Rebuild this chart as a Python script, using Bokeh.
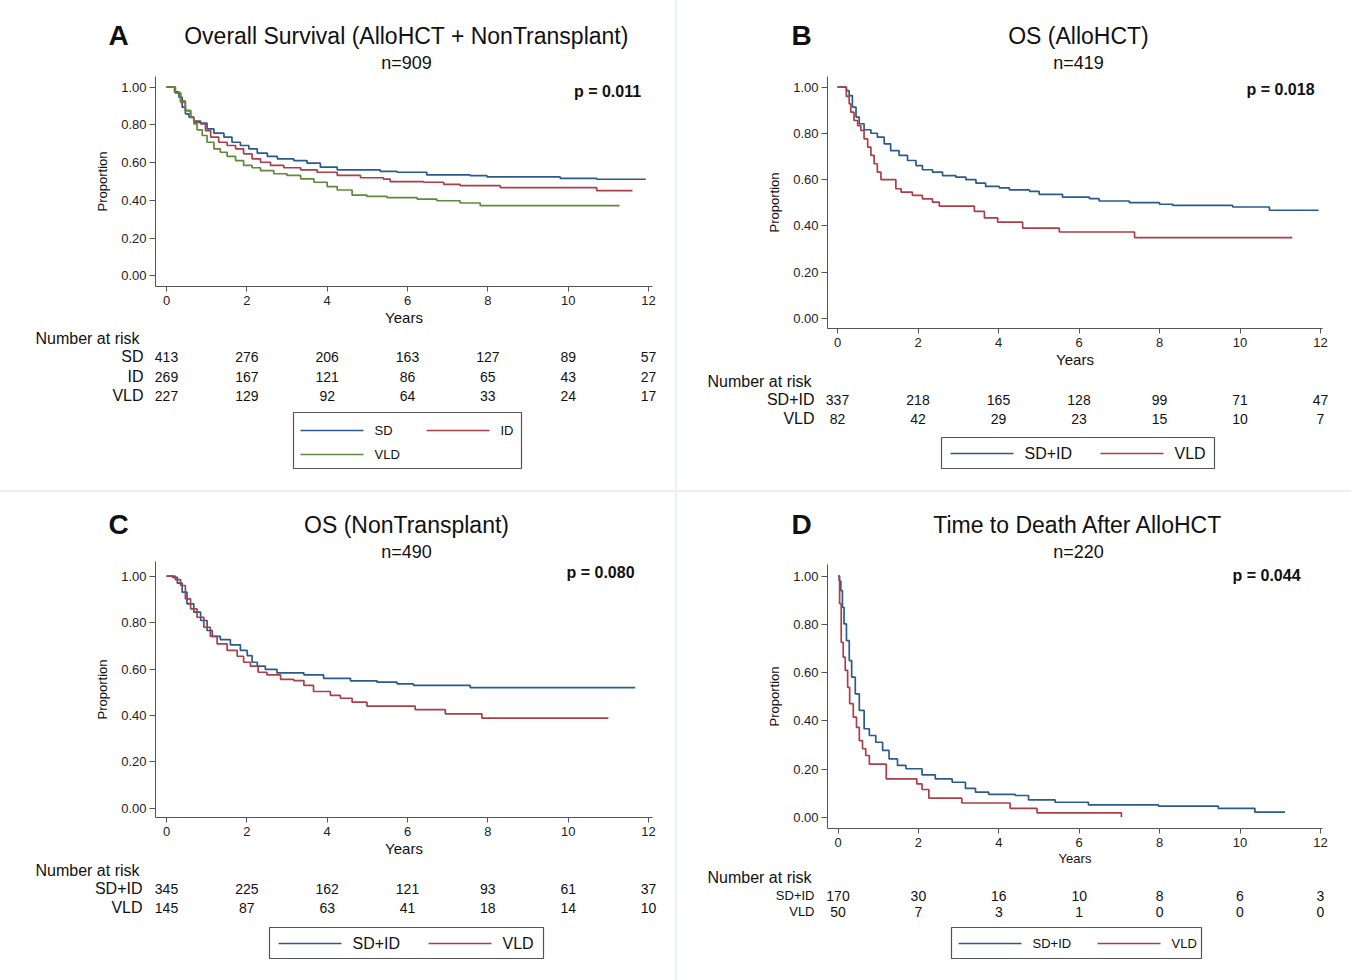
import math
from bokeh.plotting import figure
from bokeh.models import (Range1d, FixedTicker, PrintfTickFormatter, Label, LabelSet,
                          ColumnDataSource)
from bokeh.core.properties import value
from bokeh.layouts import row, column
from bokeh.embed import file_html
from bokeh.resources import INLINE

FONT = "Liberation Sans"
BLUE = "#2a5b8c"
RED = "#aa3f49"
GREEN = "#62893b"
AXIS = "#555555"

# ---------------- data ----------------
risk_times = [0, 2, 4, 6, 8, 10, 12]
x_ticks = [0, 2, 4, 6, 8, 10, 12]
y_ticks = [0.0, 0.2, 0.4, 0.6, 0.8, 1.0]

# Panel A: Overall survival (AlloHCT + NonTransplant)
a_sd_t = [0, 0.2, 0.31, 0.39, 0.47, 0.56, 0.68, 0.85, 1.01, 1.18, 1.43, 1.63, 1.84, 2.05, 2.26, 2.51, 2.76, 3.17, 3.5, 3.83, 4.25, 5.32, 5.74, 6.48, 7.56, 7.98, 9.80, 10.71, 11.93]
a_sd_s = [1.0, 0.975, 0.947, 0.894, 0.859, 0.841, 0.82, 0.809, 0.779, 0.756, 0.735, 0.708, 0.691, 0.673, 0.65, 0.633, 0.62, 0.611, 0.597, 0.576, 0.562, 0.554, 0.549, 0.535, 0.531, 0.524, 0.517, 0.512, 0.512]
a_id_t = [0, 0.22, 0.35, 0.47, 0.6, 0.68, 0.85, 0.97, 1.1, 1.3, 1.51, 1.72, 1.92, 2.13, 2.34, 2.59, 2.92, 3.34, 3.75, 4.25, 4.83, 5.4, 5.57, 6.4, 6.9, 7.31, 8.31, 10.71, 11.6]
a_id_s = [1.0, 0.97, 0.926, 0.876, 0.841, 0.814, 0.806, 0.77, 0.735, 0.708, 0.691, 0.673, 0.647, 0.62, 0.602, 0.585, 0.573, 0.562, 0.549, 0.532, 0.52, 0.513, 0.499, 0.496, 0.485, 0.478, 0.468, 0.452, 0.452]
a_vld_t = [0, 0.22, 0.35, 0.47, 0.6, 0.68, 0.76, 0.89, 1.01, 1.18, 1.34, 1.51, 1.72, 1.92, 2.13, 2.34, 2.67, 3.0, 3.34, 3.67, 4.0, 4.25, 4.62, 4.99, 5.49, 6.24, 6.73, 7.31, 7.81, 11.28]
a_vld_s = [1.0, 0.97, 0.92, 0.876, 0.838, 0.806, 0.774, 0.744, 0.708, 0.673, 0.655, 0.633, 0.611, 0.585, 0.573, 0.558, 0.541, 0.532, 0.514, 0.496, 0.473, 0.455, 0.428, 0.421, 0.414, 0.407, 0.398, 0.386, 0.372, 0.372]
a_risk_sd = [413, 276, 206, 163, 127, 89, 57]
a_risk_id = [269, 167, 121, 86, 65, 43, 27]
a_risk_vld = [227, 129, 92, 64, 33, 24, 17]

# Panel B: OS (AlloHCT)
b_sdid_t = [0, 0.22, 0.29, 0.37, 0.46, 0.54, 0.66, 0.83, 0.99, 1.16, 1.32, 1.53, 1.74, 1.95, 2.11, 2.36, 2.61, 2.94, 3.19, 3.44, 3.68, 4.02, 4.27, 4.77, 5.01, 5.59, 6.26, 6.5, 7.25, 8.0, 8.33, 9.82, 10.73, 11.95]
b_sdid_s = [1.0, 0.985, 0.964, 0.914, 0.871, 0.842, 0.816, 0.801, 0.784, 0.755, 0.726, 0.705, 0.683, 0.661, 0.643, 0.633, 0.618, 0.611, 0.60, 0.585, 0.571, 0.565, 0.556, 0.55, 0.537, 0.525, 0.518, 0.508, 0.501, 0.494, 0.489, 0.482, 0.468, 0.468]
b_vld_t = [0, 0.22, 0.29, 0.33, 0.41, 0.5, 0.58, 0.66, 0.75, 0.83, 0.91, 0.99, 1.08, 1.45, 1.58, 1.86, 2.11, 2.36, 2.53, 3.4, 3.65, 3.98, 4.6, 5.51, 7.38, 11.3]
b_vld_s = [1.0, 0.96, 0.928, 0.892, 0.856, 0.834, 0.813, 0.777, 0.741, 0.705, 0.669, 0.633, 0.60, 0.561, 0.546, 0.532, 0.517, 0.503, 0.486, 0.463, 0.435, 0.417, 0.391, 0.374, 0.35, 0.35]
b_risk_sdid = [337, 218, 165, 128, 99, 71, 47]
b_risk_vld = [82, 42, 29, 23, 15, 10, 7]

# Panel C: OS (NonTransplant)
c_sdid_t = [0, 0.15, 0.27, 0.39, 0.51, 0.68, 0.85, 1.01, 1.14, 1.34, 1.59, 1.84, 2.01, 2.13, 2.26, 2.46, 2.75, 3.42, 3.91, 4.58, 5.24, 5.74, 6.15, 7.56, 11.67]
c_sdid_s = [1.0, 0.995, 0.97, 0.931, 0.881, 0.845, 0.809, 0.766, 0.741, 0.727, 0.704, 0.68, 0.658, 0.629, 0.612, 0.598, 0.583, 0.575, 0.56, 0.549, 0.543, 0.536, 0.529, 0.52, 0.52]
c_vld_t = [0, 0.22, 0.35, 0.47, 0.6, 0.76, 0.93, 1.09, 1.26, 1.51, 1.76, 1.92, 2.09, 2.28, 2.5, 2.84, 3.17, 3.42, 3.66, 4.08, 4.33, 4.62, 4.99, 6.19, 6.94, 7.85, 11.0]
c_vld_s = [1.0, 0.985, 0.96, 0.902, 0.859, 0.823, 0.78, 0.741, 0.708, 0.68, 0.655, 0.629, 0.612, 0.586, 0.575, 0.555, 0.55, 0.529, 0.503, 0.486, 0.474, 0.457, 0.44, 0.425, 0.407, 0.388, 0.388]
c_risk_sdid = [345, 225, 162, 121, 93, 61, 37]
c_risk_vld = [145, 87, 63, 41, 18, 14, 10]

# Panel D: Time to death after AlloHCT
d_sdid_t = [0, 0.03, 0.07, 0.11, 0.15, 0.21, 0.28, 0.34, 0.43, 0.53, 0.65, 0.78, 0.94, 1.11, 1.27, 1.48, 1.69, 2.09, 2.42, 2.84, 3.17, 3.42, 3.75, 4.41, 4.74, 5.4, 6.23, 7.97, 9.46, 10.37, 11.12]
d_sdid_s = [1.0, 0.98, 0.94, 0.871, 0.802, 0.733, 0.65, 0.581, 0.512, 0.443, 0.367, 0.339, 0.311, 0.277, 0.242, 0.215, 0.201, 0.176, 0.159, 0.145, 0.12, 0.104, 0.095, 0.09, 0.072, 0.062, 0.051, 0.046, 0.037, 0.021, 0.021]
d_vld_t = [0, 0.04, 0.08, 0.13, 0.18, 0.24, 0.29, 0.38, 0.46, 0.53, 0.61, 0.69, 0.78, 1.2, 1.96, 2.09, 2.26, 3.08, 4.28, 4.95, 7.05]
d_vld_s = [1.0, 0.886, 0.726, 0.664, 0.609, 0.539, 0.471, 0.415, 0.373, 0.318, 0.284, 0.256, 0.22, 0.159, 0.138, 0.115, 0.079, 0.059, 0.037, 0.018, 0.0]
d_risk_sdid = [170, 30, 16, 10, 8, 6, 3]
d_risk_vld = [50, 7, 3, 1, 0, 0, 0]


def base_fig(width, height, xr, yr, **kw):
    return figure(width=width, height=height, x_range=xr, y_range=yr, title=None,
                  output_backend="svg", toolbar_location=None, frame_align=False, **kw)


def lab(p, x, y, text, size, bold=False, align="center", angle=0.0):
    p.add_layout(Label(x=x, y=y, text=text, text_font=FONT, text_font_size=f"{size}px",
                       text_font_style="bold" if bold else "normal",
                       text_align=align, text_baseline="middle",
                       text_color="#111111", angle=angle))


def make_panel(g, t, series, risk_rows):
    X = lambda px: (px - g["x0"]) / g["ppx"]
    Y = lambda py: (g["y0"] - py) / g["ppy"]
    W = g["W"]
    ox, oy = g["ox"], g["oy"]

    # --- header (letter, title, n) ---
    top = base_fig(W, g["ft"] - oy, Range1d(ox, ox + W), Range1d(g["ft"], oy),
                   x_axis_type=None, y_axis_type=None, min_border_left=0, min_border_right=0,
                   min_border_top=0, min_border_bottom=0)
    top.outline_line_color = None
    lab(top, *t["letter"], size=28, bold=True)
    lab(top, *t["title"], size=23)
    lab(top, *t["n"], size=18)

    # --- Kaplan-Meier plot ---
    m = base_fig(W, g["mb"] - g["ft"], Range1d(X(g["fl"]), X(g["fr"])),
                 Range1d(Y(g["fb"]), Y(g["ft"])),
                 min_border_left=g["fl"] - ox, min_border_right=ox + W - g["fr"],
                 min_border_top=0, min_border_bottom=g["mb"] - g["fb"])
    m.outline_line_color = None
    m.grid.grid_line_color = None
    m.xaxis.ticker = FixedTicker(ticks=x_ticks)
    m.yaxis.ticker = FixedTicker(ticks=y_ticks)
    m.yaxis.formatter = PrintfTickFormatter(format="%.2f")
    m.xaxis.formatter = PrintfTickFormatter(format="%d")
    for ax in (m.xaxis, m.yaxis):
        ax.axis_line_color = AXIS
        ax.major_tick_line_color = AXIS
        ax.minor_tick_line_color = None
        ax.major_tick_in = 0
        ax.major_tick_out = 6
        ax.major_label_standoff = 3
        ax.major_label_text_font = FONT
        ax.major_label_text_font_size = "13px"
        ax.major_label_text_color = "#222222"
        ax.axis_label_text_font = FONT
        ax.axis_label_text_font_style = "normal"
        ax.axis_label_text_color = "#111111"
    m.xaxis.major_tick_out = 5
    m.xaxis.major_label_standoff = 4
    m.xaxis.axis_label = "Years"
    m.xaxis.axis_label_text_font_size = f"{t['years_size']}px"
    m.xaxis.axis_label_standoff = 1
    m.yaxis.axis_label = "Proportion"
    m.yaxis.axis_label_text_font_size = "13px"
    m.yaxis.axis_label_standoff = 8

    for name, ts, ss, col in series:
        m.step(ts, ss, mode="after", line_color=col, line_width=1.7)
    px, py, ptxt = t["p"]
    lab(m, X(px), Y(py), ptxt, size=16, bold=True)

    # --- number at risk + legend ---
    bottom = oy + g["H"]
    r = base_fig(W, bottom - g["mb"], Range1d(X(ox), X(ox + W)), Range1d(bottom, g["mb"]),
                 x_axis_type=None, y_axis_type=None, min_border_left=0, min_border_right=0,
                 min_border_top=0, min_border_bottom=0)
    r.outline_line_color = None
    lab(r, X(t["nar"][0]), t["nar"][1], "Number at risk", size=16, align="left")
    for (label, values), ry in zip(risk_rows, t["rows"]):
        lab(r, X(t["row_right"]), ry, label, size=t["row_size"], align="right")
        src = ColumnDataSource(dict(x=risk_times, y=[ry] * len(values),
                                    text=[str(v) for v in values]))
        r.add_layout(LabelSet(x="x", y="y", text="text", source=src, text_font=value(FONT),
                              text_font_size="14px", text_align="center",
                              text_baseline="middle", text_color="#111111"))
    l, tp, rr, b = t["box"]
    r.quad(left=[X(l)], right=[X(rr)], top=[tp], bottom=[b], fill_color=None,
           line_color=AXIS, line_width=1.2)
    for (sx, sy), (name, ts, ss, col) in zip(t["entries"], series):
        r.segment(x0=[X(sx)], y0=[sy], x1=[X(sx + 63)], y1=[sy], line_color=col,
                  line_width=1.6)
        lab(r, X(sx + 74), sy, name, size=t["leg_size"], align="left")
    return column(top, m, r, spacing=0, styles={"background-color": "white"})


gA = dict(ox=0, oy=0, W=675, H=490, x0=166, ppx=40.17, y0=275.3, ppy=188.6,
          fl=155, fr=652, ft=76, fb=286, mb=328)
gB = dict(ox=677, oy=0, W=674, H=490, x0=837, ppx=40.25, y0=318, ppy=231.3,
          fl=827, fr=1322, ft=76, fb=328, mb=371)
gC = dict(ox=0, oy=492, W=675, H=488, x0=166, ppx=40.17, y0=807.7, ppy=232,
          fl=155, fr=652, ft=561, fb=817, mb=860)
gD = dict(ox=677, oy=492, W=674, H=488, x0=837.5, ppx=40.2, y0=816.7, ppy=241,
          fl=827, fr=1322, ft=564, fb=828, mb=868)

tA = dict(letter=(118, 35, "A"), title=(406, 35, "Overall Survival (AlloHCT + NonTransplant)"),
          n=(406, 62, "n=909"), p=(607, 91, "p = 0.011"), years_size=15,
          nar=(35, 338), rows=[356, 376, 395], row_right=143, row_size=16,
          box=(293, 412, 521, 468), entries=[(300, 430), (426, 430), (300, 454)], leg_size=13)
tB = dict(letter=(801, 35, "B"), title=(1078, 35, "OS (AlloHCT)"),
          n=(1078, 62, "n=419"), p=(1280, 89, "p = 0.018"), years_size=15,
          nar=(707, 381), rows=[399, 418], row_right=814, row_size=16,
          box=(941, 437, 1214, 468), entries=[(950, 453), (1100, 453)], leg_size=16)
tC = dict(letter=(118, 524, "C"), title=(406, 524, "OS (NonTransplant)"),
          n=(406, 551, "n=490"), p=(600, 572, "p = 0.080"), years_size=15,
          nar=(35, 870), rows=[888, 907], row_right=142, row_size=16,
          box=(269, 927, 543, 958), entries=[(278, 943), (428, 943)], leg_size=16)
tD = dict(letter=(801, 524, "D"), title=(1078, 524, "Time to Death After AlloHCT"),
          n=(1078, 551, "n=220"), p=(1266, 575, "p = 0.044"), years_size=13,
          nar=(707, 877), rows=[895, 911], row_right=814, row_size=13,
          box=(951, 927, 1201, 958), entries=[(958, 943), (1097, 943)], leg_size=13)

pA = make_panel(gA, tA, [("SD", a_sd_t, a_sd_s, BLUE), ("ID", a_id_t, a_id_s, RED),
                         ("VLD", a_vld_t, a_vld_s, GREEN)],
                [("SD", a_risk_sd), ("ID", a_risk_id), ("VLD", a_risk_vld)])
pB = make_panel(gB, tB, [("SD+ID", b_sdid_t, b_sdid_s, BLUE), ("VLD", b_vld_t, b_vld_s, RED)],
                [("SD+ID", b_risk_sdid), ("VLD", b_risk_vld)])
pC = make_panel(gC, tC, [("SD+ID", c_sdid_t, c_sdid_s, BLUE), ("VLD", c_vld_t, c_vld_s, RED)],
                [("SD+ID", c_risk_sdid), ("VLD", c_risk_vld)])
pD = make_panel(gD, tD, [("SD+ID", d_sdid_t, d_sdid_s, BLUE), ("VLD", d_vld_t, d_vld_s, RED)],
                [("SD+ID", d_risk_sdid), ("VLD", d_risk_vld)])

layout = column(row(pA, pB, spacing=2), row(pC, pD, spacing=2), spacing=2,
                styles={"background-color": "#eaf0f4"})

with open("out.html", "w") as f:
    f.write(file_html(layout, INLINE))
